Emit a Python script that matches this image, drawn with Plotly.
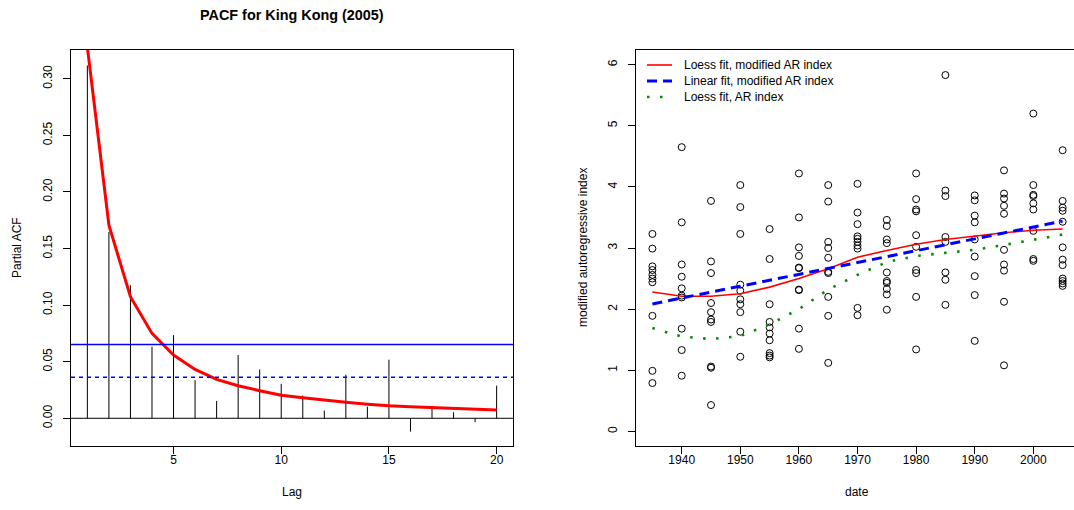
import plotly.graph_objects as go

W, H = 1074, 510
FONT = "Liberation Sans, Arial, sans-serif"

# ---------------- Left panel: PACF ----------------
lags = list(range(1, 21))
pacf_values = [0.3118, 0.1647, 0.1176, 0.0632, 0.0735, 0.0338, 0.0153, 0.0559, 0.0432, 0.0305,
               0.0200, 0.0068, 0.0385, 0.0103, 0.0518, -0.0118, 0.0109, 0.0053, -0.0035, 0.0288]
pacf_fit = [0.328, 0.1706, 0.1074, 0.0750, 0.0559, 0.0432, 0.0344, 0.0288, 0.0244, 0.0203,
            0.0182, 0.0160, 0.0142, 0.0125, 0.0110, 0.0102, 0.0095, 0.0088, 0.0081, 0.0074]
ci_solid = 0.0653
ci_dashed = 0.0362
lag_ticks = [5, 10, 15, 20]
pacf_ticks = [0.00, 0.05, 0.10, 0.15, 0.20, 0.25, 0.30]

# ---------------- Right panel: index vs date ----------------
years = [1935, 1940, 1945, 1950, 1955, 1960, 1965, 1970, 1975, 1980, 1985, 1990, 1995, 2000, 2005]
mod_ar_by_year = [
    [3.23, 2.99, 2.70, 2.64, 2.56, 2.50, 2.44, 1.89, 0.99, 0.79],        # 1935
    [4.65, 3.42, 2.73, 2.53, 2.34, 2.22, 2.19, 1.68, 1.33, 0.91],        # 1940
    [3.77, 2.78, 2.59, 2.10, 1.95, 1.83, 1.79, 1.06, 1.04, 0.43],        # 1945
    [4.03, 3.67, 3.23, 2.40, 2.30, 2.16, 2.08, 1.95, 1.63, 1.22],        # 1950
    [3.31, 2.82, 2.08, 1.79, 1.70, 1.60, 1.49, 1.28, 1.24, 1.21],        # 1955
    [4.22, 3.50, 3.01, 2.87, 2.68, 2.67, 2.32, 2.31, 1.68, 1.35],        # 1960
    [4.03, 3.76, 3.10, 3.00, 2.84, 2.61, 2.59, 2.20, 1.89, 1.12],        # 1965
    [4.05, 3.58, 3.39, 3.19, 3.15, 3.10, 3.04, 2.99, 2.02, 1.90],        # 1970
    [3.46, 3.36, 3.14, 3.08, 2.60, 2.46, 2.43, 2.33, 2.24, 1.99],        # 1975
    [4.22, 3.80, 3.63, 3.60, 3.21, 3.02, 2.64, 2.59, 2.20, 1.34],        # 1980
    [5.83, 3.94, 3.85, 3.18, 3.10, 2.60, 2.48, 2.07],                    # 1985
    [3.86, 3.78, 3.53, 3.42, 3.14, 2.86, 2.54, 2.23, 1.48],              # 1990
    [4.27, 3.89, 3.81, 3.69, 3.56, 2.97, 2.73, 2.63, 2.12, 1.08],        # 1995
    [5.20, 4.03, 3.87, 3.85, 3.73, 3.63, 3.28, 2.82, 2.79],              # 2000
    [4.60, 3.77, 3.66, 3.61, 3.43, 3.01, 2.81, 2.72, 2.50, 2.46, 2.42, 2.38],  # 2005
]
loess_mod_ar = [2.28, 2.21, 2.21, 2.25, 2.36, 2.50, 2.66, 2.85, 2.96, 3.06, 3.14, 3.20, 3.25, 3.29, 3.31]
linear_years = [1935, 2005]
linear_mod_ar = [2.085, 3.44]
loess_ar = [1.69, 1.55, 1.51, 1.56, 1.75, 2.00, 2.32, 2.56, 2.77, 2.87, 2.92, 2.97, 3.05, 3.13, 3.22]
year_ticks = [1940, 1950, 1960, 1970, 1980, 1990, 2000]
index_ticks = [0, 1, 2, 3, 4, 5, 6]

legend_labels = ["Loess fit, modified AR index", "Linear fit, modified AR index", "Loess fit, AR index"]

# ---------------- Build figure ----------------
fig = go.Figure()

bar_x, bar_y = [], []
for lag, v in zip(lags, pacf_values):
    bar_x += [lag, lag, None]
    bar_y += [0, v, None]
fig.add_trace(go.Scatter(x=bar_x, y=bar_y, mode="lines", line=dict(color="black", width=1),
                         xaxis="x", yaxis="y", hoverinfo="skip"))
fig.add_trace(go.Scatter(x=lags, y=pacf_fit, mode="lines", line=dict(color="#FF0000", width=3),
                         xaxis="x", yaxis="y"))

pts_x, pts_y = [], []
for yr, vals in zip(years, mod_ar_by_year):
    pts_x += [yr] * len(vals)
    pts_y += vals
fig.add_trace(go.Scatter(x=pts_x, y=pts_y, mode="markers",
                         marker=dict(symbol="circle-open", size=7, color="black", line=dict(width=1)),
                         xaxis="x2", yaxis="y2"))
GREEN_DASH = "2.5px,10.5px"
fig.add_trace(go.Scatter(x=years, y=loess_mod_ar, mode="lines", line=dict(color="#FF0000", width=1.6),
                         xaxis="x2", yaxis="y2"))
fig.add_trace(go.Scatter(x=linear_years, y=linear_mod_ar, mode="lines",
                         line=dict(color="#0000FF", width=3, dash="10px,6px"),
                         xaxis="x2", yaxis="y2"))
fig.add_trace(go.Scatter(x=years, y=loess_ar, mode="lines",
                         line=dict(color="#008B00", width=2.6, dash=GREEN_DASH),
                         xaxis="x2", yaxis="y2"))

shapes = [
    dict(type="line", xref="x domain", yref="y", x0=0, x1=1, y0=0, y1=0,
         line=dict(color="black", width=1)),
    dict(type="line", xref="x domain", yref="y", x0=0, x1=1, y0=ci_solid, y1=ci_solid,
         line=dict(color="#0000FF", width=1.5)),
    dict(type="line", xref="x domain", yref="y", x0=0, x1=1, y0=ci_dashed, y1=ci_dashed,
         line=dict(color="#0000FF", width=1.5, dash="4px,4px")),
]

# manual legend (paper coords)
def px(x):
    return x / W

def py(y):
    return 1 - y / H

legend_styles = [
    dict(color="#FF0000", width=1.6),
    dict(color="#0000FF", width=3, dash="10px,6px"),
    dict(color="#008B00", width=2.6, dash=GREEN_DASH),
]
legend_rows = [65, 81, 97]
annotations = []
for lab, sty, ry in zip(legend_labels, legend_styles, legend_rows):
    shapes.append(dict(type="line", xref="paper", yref="paper", x0=px(647), x1=px(672),
                       y0=py(ry), y1=py(ry), line=sty))
    annotations.append(dict(text=lab, xref="paper", yref="paper", x=px(682), y=py(ry),
                            xanchor="left", yanchor="middle", showarrow=False,
                            font=dict(family=FONT, size=12, color="black")))

annotations += [
    dict(text="<b>PACF for King Kong (2005)</b>", xref="paper", yref="paper", x=px(292), y=py(15),
         xanchor="center", yanchor="middle", showarrow=False,
         font=dict(family=FONT, size=14.4, color="black")),
    dict(text="Lag", xref="paper", yref="paper", x=px(292), y=py(492),
         xanchor="center", yanchor="middle", showarrow=False,
         font=dict(family=FONT, size=12, color="black")),
    dict(text="Partial ACF", xref="paper", yref="paper", x=px(17), y=py(248), textangle=-90,
         xanchor="center", yanchor="middle", showarrow=False,
         font=dict(family=FONT, size=12, color="black")),
    dict(text="date", xref="paper", yref="paper", x=px(857), y=py(492),
         xanchor="center", yanchor="middle", showarrow=False,
         font=dict(family=FONT, size=12, color="black")),
    dict(text="modified autoregressive index", xref="paper", yref="paper", x=px(583), y=py(248),
         textangle=-90, xanchor="center", yanchor="middle", showarrow=False,
         font=dict(family=FONT, size=12, color="black")),
]

axis_common = dict(showgrid=False, zeroline=False, showline=True, linecolor="black", linewidth=1,
                   ticks="outside", ticklen=7, tickwidth=1, tickcolor="black",
                   tickfont=dict(family=FONT, size=12, color="black"), fixedrange=True)

ydom = [1 - 446 / H, 1 - 50 / H]
fig.update_layout(
    width=W, height=H, margin=dict(l=0, r=0, t=0, b=0), autosize=False,
    paper_bgcolor="white", plot_bgcolor="white", showlegend=False,
    xaxis=dict(**axis_common, domain=[71 / W, 513 / W], range=[0.24, 20.76],
               tickvals=lag_ticks, mirror=True, anchor="y", ticklabelstandoff=-4),
    yaxis=dict(**axis_common, domain=ydom, range=[-0.0245, 0.3255], tickvals=pacf_ticks,
               tickformat=".2f", tickangle=-90, mirror=True, anchor="x", ticklabelstandoff=6),
    xaxis2=dict(**axis_common, domain=[636 / W, 1.0], range=[1932.2, 2006.94],
                tickvals=year_ticks, mirror=True, anchor="y2", ticklabelstandoff=-4),
    yaxis2=dict(**axis_common, domain=ydom, range=[-0.24, 6.24], tickvals=index_ticks,
                tickangle=-90, mirror=False, anchor="x2", ticklabelstandoff=6),
    shapes=shapes, annotations=annotations,
)

fig.write_html("out.html")
